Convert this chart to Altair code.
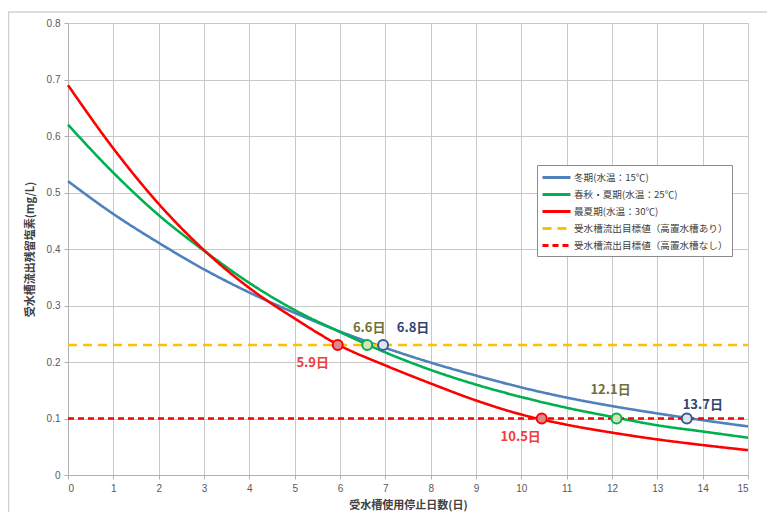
import altair as alt
import pandas as pd

# ---------------- data ----------------
days = list(range(16))
winter = [0.520, 0.462, 0.411, 0.364, 0.323, 0.287, 0.254, 0.225, 0.199, 0.176,
          0.155, 0.137, 0.122, 0.109, 0.097, 0.086]
spring = [0.620, 0.535, 0.460, 0.397, 0.340, 0.292, 0.253, 0.217, 0.186, 0.160,
          0.138, 0.119, 0.103, 0.088, 0.077, 0.066]
summer = [0.690, 0.578, 0.480, 0.398, 0.331, 0.277, 0.229, 0.194, 0.162, 0.132,
          0.107, 0.089, 0.075, 0.063, 0.053, 0.044]

series_names = ["冬期(水温：15℃)", "春秋・夏期(水温：25℃)", "最夏期(水温：30℃)",
                "受水槽流出目標値（高置水槽あり）", "受水槽流出目標値（高置水槽なし）"]
target_days = [0, 15]
target_values = [0.23, 0.10]

point_days = [5.95, 6.6, 6.95, 10.45, 12.1, 13.65]
point_values = [0.23, 0.23, 0.23, 0.10, 0.10, 0.10]
point_labels = ["5.9日", "6.6日", "6.8日", "10.5日", "12.1日", "13.7日"]

x_ticks = list(range(16))
y_ticks = [0, 0.1, 0.2, 0.3, 0.4, 0.5, 0.6, 0.7, 0.8]

# ---------------- tables ----------------
rows = []
for name, vals in zip(series_names[:3], [winter, spring, summer]):
    for d, v in zip(days, vals):
        rows.append({"day": d, "value": v, "series": name})
for name, tv in zip(series_names[3:], target_values):
    for d in target_days:
        rows.append({"day": d, "value": tv, "series": name})
df_lines = pd.DataFrame(rows)
df_points = pd.DataFrame({"day": point_days, "value": point_values, "label": point_labels})

# ---------------- styles ----------------
line_colors = ["#4f81bd", "#00b050", "#ff0000", "#ffc000", "#ff0000"]
line_dashes = [[1, 0], [1, 0], [1, 0], [9, 6], [6, 4]]
JP = "Noto Sans CJK JP"
W, H = 680, 452

x_enc = alt.X("day:Q", scale=alt.Scale(domain=[0, 15], nice=False),
              axis=alt.Axis(values=x_ticks, title="受水槽使用停止日数(日)",
                            titleX=340, titleY=30, titleBaseline="middle"))
y_enc = alt.Y("value:Q", scale=alt.Scale(domain=[0, 0.8], nice=False),
              axis=alt.Axis(values=y_ticks, format=".1~f", title="受水槽流出残留塩素(mg/L)",
                            titleX=-38, titleY=H / 2, titleBaseline="middle", titleAngle=-90))

leg = alt.Legend(title=None, orient="none", legendX=469, legendY=142,
                 symbolType="M-1,0H3", symbolSize=196, symbolStrokeWidth=3,
                 labelOffset=16, labelFont=JP, labelFontSize=9.6, labelColor="#404040",
                 strokeColor="#8c8c8c", fillColor="white", padding=4, rowPadding=2,
                 labelLimit=300)

lines = alt.Chart(df_lines).mark_line(strokeWidth=2.6, interpolate="monotone").encode(
    x=x_enc, y=y_enc,
    color=alt.Color("series:N", scale=alt.Scale(domain=series_names, range=line_colors), legend=leg),
    strokeDash=alt.StrokeDash("series:N", scale=alt.Scale(domain=series_names, range=line_dashes), legend=leg),
)

marker_style = {
    "5.9日": ("#d98c8c", "#ff0000", "#f03c3c", -25, 18),
    "6.6日": ("#d3e4b8", "#00b050", "#6f6f3a", 2, -17),
    "6.8日": ("#dce6f2", "#3b5a8a", "#2f4470", 30, -17),
    "10.5日": ("#d98c8c", "#ff0000", "#f03c3c", -21, 18),
    "12.1日": ("#d3e4b8", "#00b050", "#6f6f3a", -6, -29),
    "13.7日": ("#dce6f2", "#3b5a8a", "#2f4470", 16, -14),
}

layers = [lines]
for lab in point_labels:
    fill, stroke, tcol, dx, dy = marker_style[lab]
    base = alt.Chart(df_points).transform_filter(alt.datum.label == lab)
    layers.append(base.mark_circle(size=100, color=fill, stroke=stroke, strokeWidth=2, opacity=1)
                  .encode(x="day:Q", y="value:Q"))
    layers.append(base.mark_text(dx=dx, dy=dy, font=JP, fontSize=13, fontWeight="bold", color=tcol)
                  .encode(x="day:Q", y="value:Q", text="label:N"))

frame_df = pd.DataFrame({"k": [0]})
frame_v = alt.Chart(frame_df).mark_rule(color="#d0d0d0", strokeWidth=1.5).encode(
    x=alt.value(-59.5), y=alt.value(-11), y2=alt.value(495))
frame_h = alt.Chart(frame_df).mark_rule(color="#d0d0d0", strokeWidth=1.5).encode(
    x=alt.value(-60), x2=alt.value(710), y=alt.value(-11))
layers = [frame_v, frame_h] + layers

chart = alt.layer(*layers).properties(
    width=W, height=H,
    autosize=alt.AutoSizeParams(type="none"),
    padding={"left": 60, "top": 15, "right": 19, "bottom": 37},
    background="white",
).configure_axis(
    gridColor="#c8c8c8", domainColor="#b0b0b0", tickColor="#b0b0b0", tickSize=4,
    labelFont="Liberation Sans", labelFontSize=10, labelColor="#595959", labelPadding=4,
    titleFont=JP, titleFontSize=11, titleFontWeight="bold", titleColor="#404040",
).configure_view(stroke=None)

chart.save("out.html", embed_options={"renderer": "svg", "actions": False})
